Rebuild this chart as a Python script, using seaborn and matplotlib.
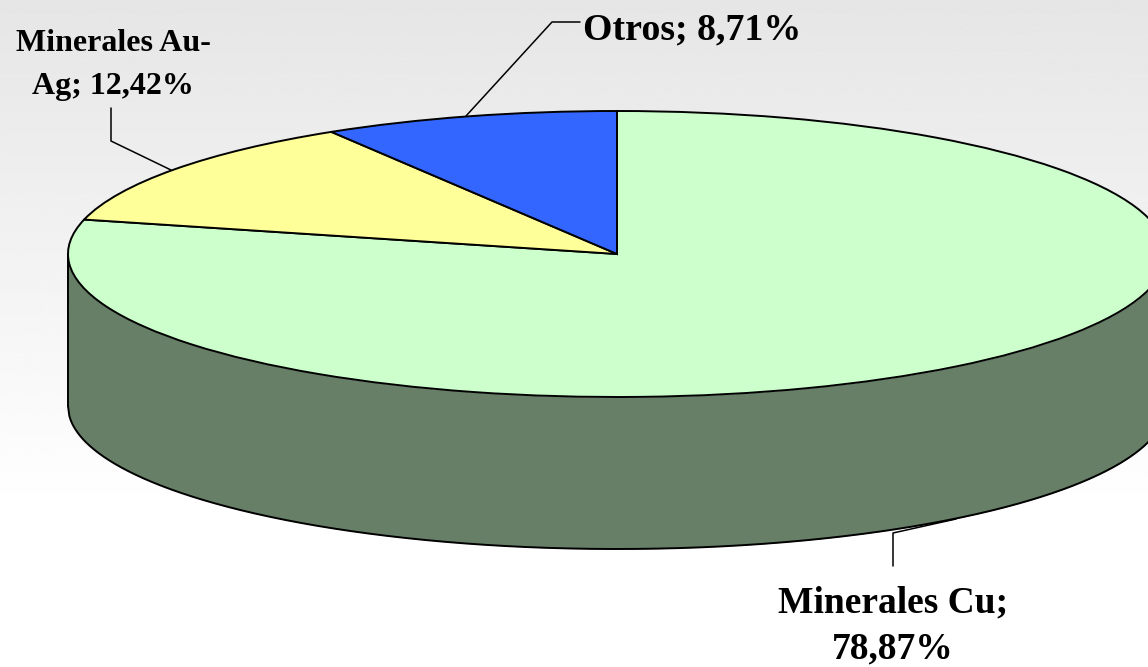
import numpy as np
import matplotlib
matplotlib.use('Agg')
import matplotlib.pyplot as plt
import seaborn as sns

# Data
categories = ['Minerales Cu', 'Minerales Au-Ag', 'Otros']
shares = [78.87, 12.42, 8.71]
slice_colors = ['#CCFFCC', '#FFFF99', '#3366FF']
wall_color = '#667F66'

sns.set_theme(style='white')
plt.rcParams['font.family'] = ['Liberation Serif', 'DejaVu Serif']

W, H = 1148, 667
cx, cy = 617, 254      # pie centre in pixels
rx, ry = 549, 143      # ellipse radii in pixels
depth = 152 / ry       # height of the wall, in pie units

fig = plt.figure(figsize=(W / 100, H / 100), dpi=100)

# Background: grey at the top fading to white
bg = fig.add_axes([0, 0, 1, 1], zorder=0)
shade = np.clip(np.linspace(0.90, 1.03, 256), 0, 1).reshape(-1, 1)
bg.imshow(shade, cmap='gray', vmin=0, vmax=1, aspect='auto', extent=(0, W, H, 0))
bg.axis('off')

# Pie: one unit is rx pixels across and ry pixels down
ax = fig.add_axes([0, 0, 1, 1], zorder=1)
ax.patch.set_alpha(0)
ax.pie(shares, colors=slice_colors, startangle=90, counterclock=False, radius=1,
       wedgeprops={'edgecolor': 'black', 'linewidth': 1.4, 'zorder': 3})
ax.set_aspect('auto')
ax.set_xlim(-cx / rx, (W - cx) / rx)
ax.set_ylim((cy - H) / ry, cy / ry)
ax.axis('off')

# Wall under the front half of the ellipse
x = np.linspace(-1, 1, 800)
rim = -np.sqrt(1 - x ** 2)
ax.fill_between(x, rim, rim - depth, color=wall_color, linewidth=0, zorder=1)
ax.plot(x, rim - depth, color='black', lw=1.4, zorder=2)
ax.plot([-1, -1], [0, -depth], color='black', lw=1.4, zorder=2)

# Labels and leader lines, in pixels
top = fig.add_axes([0, 0, 1, 1], zorder=2)
top.patch.set_alpha(0)
top.set_xlim(0, W)
top.set_ylim(H, 0)
top.axis('off')

top.plot([466, 552, 580], [116, 22, 22], color='black', lw=1.1)
top.plot([111, 111, 171], [108, 141, 170], color='black', lw=1.1)
top.plot([893, 893, 956], [566, 533, 519], color='black', lw=1.1)

top.text(692, 29.5, 'Otros; 8,71%', ha='center', va='center',
         fontsize=27.3, fontweight='bold', color='black')
top.text(113, 65, 'Minerales Au-\nAg; 12,42%', ha='center', va='center',
         fontsize=23, fontweight='bold', color='black', linespacing=1.6)
top.text(893, 626, 'Minerales Cu;\n78,87%', ha='center', va='center',
         fontsize=27, fontweight='bold', color='black', linespacing=1.4)

fig.savefig('out.png', dpi=100)
